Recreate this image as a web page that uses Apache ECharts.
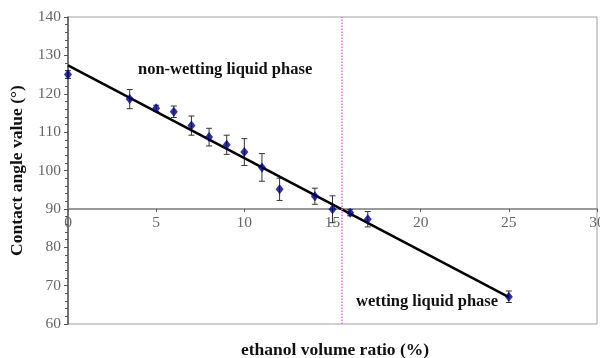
<!DOCTYPE html>
<html>
<head>
<meta charset="utf-8">
<script src="https://cdn.jsdelivr.net/npm/echarts@6/dist/echarts.min.js"></script>
<style>
  html, body { margin: 0; padding: 0; background: #fff; }
  #chart { width: 600px; height: 358px; }
</style>
</head>
<body>
<div id="chart"></div>
<script>
// measured points: ethanol ratio (%) vs contact angle (deg)
var ratio = [0, 3.5, 5, 6, 7, 8, 9, 10, 11, 12, 14, 15, 16, 17, 25];
var angle = [125, 118.6, 116.2, 115.3, 111.7, 108.7, 106.7, 104.8, 100.8, 95.1, 93.3, 89.9, 89.0, 87.3, 67.1];
var errBar = [1, 2.5, 0.8, 1.5, 2.5, 2.3, 2.5, 3.5, 3.6, 2.9, 2.1, 3.5, 0.8, 2, 1.5];
// linear fit end points
var fitX = [0, 25];
var fitY = [127.4, 67.0];
var transition = 15.5;
var crossAt = 90; // x axis drawn at this angle

var serif = '"Liberation Serif", "DejaVu Serif", serif';

var gridTop = 17, gridBottom = 34, yMin = 60, yMax = 140;
var plotH = 358 - gridTop - gridBottom;
var xAxisShift = -plotH * (crossAt - yMin) / (yMax - yMin);

var chart = echarts.init(document.getElementById('chart'), null, { renderer: 'canvas' });

var option = {
  animation: false,
  title: {
    text: 'ethanol volume ratio (%)',
    left: 236,
    top: 336,
    textStyle: { fontFamily: serif, fontWeight: 'bold', fontSize: 17.5, color: '#111' }
  },
  grid: {
    left: 68, right: 3, top: gridTop, bottom: gridBottom,
    outerBoundsMode: 'none',
    containLabel: false,
    show: true, borderColor: '#a0a0a0', borderWidth: 1
  },
  graphic: [
    {
      type: 'text', left: 138, top: 61,
      style: { text: 'non-wetting liquid phase', font: 'bold 16.5px ' + serif, fill: '#111' }
    },
    {
      type: 'text', left: 356, top: 293,
      style: { text: 'wetting liquid phase', font: 'bold 16.5px ' + serif, fill: '#111' }
    }
  ],
  xAxis: {
    type: 'value',
    min: 0, max: 30, interval: 5,
    offset: xAxisShift,
    axisLine: { onZero: false, lineStyle: { color: '#7a7a7a', width: 1.5 } },
    axisTick: { show: true, length: 3, lineStyle: { color: '#555' } },
    axisLabel: { color: '#666', fontFamily: serif, fontSize: 15.5, margin: 6 },
    splitLine: { show: false }
  },
  yAxis: {
    type: 'value',
    min: yMin, max: yMax, interval: 10,
    name: 'Contact angle value (°)',
    nameLocation: 'middle',
    nameGap: 39,
    nameTextStyle: { fontFamily: serif, fontWeight: 'bold', fontSize: 17.5, color: '#111' },
    axisLine: { show: true, lineStyle: { color: '#555', width: 1.5 } },
    axisTick: { show: true, length: 4, lineStyle: { color: '#555' } },
    minorTick: { show: true, splitNumber: 5, length: 3, lineStyle: { color: '#555' } },
    axisLabel: { color: '#666', fontFamily: serif, fontSize: 15.5, margin: 7 },
    splitLine: { show: false }
  },
  series: [
    {
      type: 'custom',
      z: 3,
      renderItem: function(params, api) {
        var x = api.value(0), y = api.value(1), e = api.value(2);
        var hi = api.coord([x, y + e]);
        var lo = api.coord([x, y - e]);
        var cap = 3;
        var st = { stroke: '#333', lineWidth: 1 };
        return {
          type: 'group',
          children: [
            { type: 'line', shape: { x1: hi[0], y1: hi[1], x2: lo[0], y2: lo[1] }, style: st },
            { type: 'line', shape: { x1: hi[0] - cap, y1: hi[1], x2: hi[0] + cap, y2: hi[1] }, style: st },
            { type: 'line', shape: { x1: lo[0] - cap, y1: lo[1], x2: lo[0] + cap, y2: lo[1] }, style: st }
          ]
        };
      },
      data: ratio.map(function(r, i) { return [r, angle[i], errBar[i]]; })
    },
    {
      type: 'line',
      z: 4,
      symbol: 'none',
      lineStyle: { color: '#000', width: 2.5 },
      data: fitX.map(function(x, i) { return [x, fitY[i]]; })
    },
    {
      type: 'scatter',
      z: 5,
      symbol: 'diamond',
      symbolSize: [8, 10],
      itemStyle: { color: '#000080' },
      data: ratio.map(function(r, i) { return [r, angle[i]]; }),
      markLine: {
        silent: true,
        symbol: 'none',
        label: { show: false },
        lineStyle: { color: '#e070e0', type: 'dotted', width: 1.5 },
        data: [{ xAxis: transition }]
      }
    }
  ]
};
chart.setOption(option);
window.addEventListener('resize', function() { chart.resize(); });
</script>
</body>
</html>
